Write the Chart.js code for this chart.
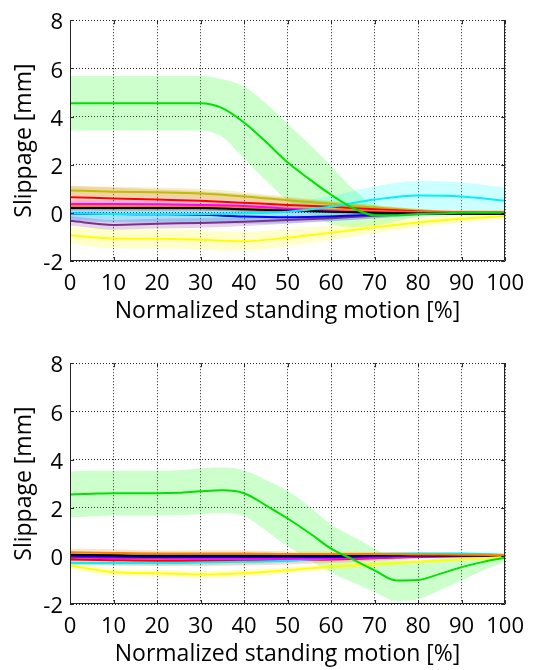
<!DOCTYPE html>
<html>
<head>
<meta charset="utf-8">
<script src="https://cdn.jsdelivr.net/npm/chart.js@4.4.0/dist/chart.umd.min.js"></script>
<style>
  html, body { margin: 0; padding: 0; background: #fff; overflow: hidden; width: 534px; height: 670px; }
  .panel { position: absolute; left: 0; width: 534px; height: 335px; }
</style>
</head>
<body>
<div class="panel" style="top:0"><canvas id="chartTop" width="534" height="335"></canvas></div>
<div class="panel" style="top:343px"><canvas id="chartBottom" width="534" height="335"></canvas></div>
<script>
// sample positions (% of standing motion)
const xCoarse = [0, 10, 20, 30, 40, 50, 60, 70, 80, 90, 100];
const xFine = [0, 5, 10, 15, 20, 25, 30, 35, 40, 45, 50, 55, 60, 65, 70, 75, 80, 85, 90, 95, 100];
const xTicks = [0, 10, 20, 30, 40, 50, 60, 70, 80, 90, 100];
const yTicks = [-2, 0, 2, 4, 6, 8];

// upper panel: mean slippage and spread [mm]
const topGreenMean = [4.55, 4.55, 4.55, 4.55, 4.55, 4.55, 4.55, 4.35, 3.75, 2.95, 2.1, 1.4, 0.75, 0.2, -0.1, -0.1, -0.05, -0.03, 0, 0, 0];
const topGreenSd = [1.13, 1.13, 1.13, 1.13, 1.13, 1.13, 1.13, 1.2, 1.5, 1.6, 1.6, 1.45, 1.2, 0.8, 0.45, 0.25, 0.12, 0.08, 0.05, 0.04, 0.03];
const topCyanMean = [-0.02, -0.05, -0.05, -0.05, -0.02, 0.05, 0.25, 0.55, 0.72, 0.68, 0.5];
const topCyanSd = [0.25, 0.3, 0.3, 0.3, 0.3, 0.35, 0.45, 0.55, 0.6, 0.58, 0.55];
const topYellowMean = [-0.93, -1.07, -1.08, -1.12, -1.18, -1.03, -0.83, -0.6, -0.4, -0.25, -0.13];
const topYellowSd = [0.35, 0.4, 0.4, 0.4, 0.4, 0.35, 0.3, 0.25, 0.2, 0.15, 0.1];
const topRedMean = [0.65, 0.6, 0.55, 0.5, 0.42, 0.33, 0.25, 0.15, 0.06, 0.02, 0];
const topRedSd = [0.45, 0.45, 0.42, 0.4, 0.35, 0.3, 0.22, 0.15, 0.1, 0.05, 0.03];
const topOliveMean = [0.93, 0.88, 0.85, 0.8, 0.68, 0.52, 0.38, 0.22, 0.1, 0.05, 0.05];
const topOliveSd = [0.2, 0.2, 0.2, 0.2, 0.18, 0.15, 0.12, 0.1, 0.06, 0.04, 0.03];
const topMagentaMean = [0.37, 0.37, 0.36, 0.33, 0.28, 0.17, 0.08, 0.02, 0, 0, 0];
const topMagentaSd = [0.15, 0.15, 0.15, 0.15, 0.13, 0.12, 0.1, 0.08, 0.05, 0.03, 0.03];
const topOrangeMean = [0.28, 0.26, 0.25, 0.25, 0.22, 0.17, 0.12, 0.07, 0.04, 0.02, 0.02];
const topOrangeSd = [0.15, 0.15, 0.15, 0.15, 0.13, 0.12, 0.1, 0.08, 0.05, 0.03, 0.03];
const topBlackMean = [0.2, 0.2, 0.2, 0.2, 0.15, 0.1, 0.05, 0, -0.03, -0.04, -0.05];
const topBlackSd = [0.1, 0.1, 0.1, 0.1, 0.1, 0.08, 0.06, 0.05, 0.04, 0.03, 0.03];
const topBlueMean = [-0.03, -0.05, -0.06, -0.08, -0.15, -0.18, -0.15, -0.08, -0.03, -0.02, -0.02];
const topBlueSd = [0.3, 0.35, 0.35, 0.35, 0.3, 0.25, 0.2, 0.15, 0.1, 0.05, 0.03];
const topPurpleMean = [-0.33, -0.5, -0.45, -0.42, -0.37, -0.3, -0.22, -0.12, -0.05, -0.02, 0];
const topPurpleSd = [0.2, 0.2, 0.2, 0.2, 0.18, 0.15, 0.12, 0.1, 0.06, 0.04, 0.03];

// lower panel
const botGreenMean = [2.55, 2.58, 2.6, 2.6, 2.6, 2.62, 2.68, 2.72, 2.6, 2.1, 1.55, 0.95, 0.3, -0.15, -0.6, -1.02, -1.0, -0.75, -0.47, -0.25, -0.08];
const botGreenSd = [0.95, 0.95, 0.93, 0.93, 0.93, 0.93, 0.95, 0.95, 0.95, 1.05, 1.15, 1.1, 1.0, 0.95, 0.9, 0.85, 0.8, 0.68, 0.55, 0.35, 0.15];
const botYellowMean = [-0.4, -0.68, -0.72, -0.78, -0.72, -0.6, -0.45, -0.35, -0.25, -0.15, -0.05];
const botYellowSd = [0.15, 0.15, 0.15, 0.15, 0.15, 0.13, 0.12, 0.1, 0.08, 0.06, 0.05];
const botOrangeMean = [0.15, 0.12, 0.1, 0.1, 0.1, 0.08, 0.08, 0.08, 0.06, 0.05, 0.03];
const botOrangeSd = [0.15, 0.15, 0.12, 0.12, 0.12, 0.1, 0.1, 0.08, 0.07, 0.06, 0.05];
const botBlackMean = [0.05, 0.02, 0, 0, 0, 0, 0, 0.02, 0.02, 0.02, 0.02];
const botBlackSd = [0.08, 0.08, 0.08, 0.08, 0.08, 0.07, 0.06, 0.05, 0.04, 0.03, 0.03];
const botBlueMean = [-0.02, -0.03, -0.05, -0.05, -0.05, -0.04, -0.05, -0.02, 0, 0, 0];
const botBlueSd = [0.1, 0.1, 0.1, 0.1, 0.1, 0.08, 0.07, 0.06, 0.05, 0.04, 0.03];
const botCyanMean = [-0.3, -0.3, -0.3, -0.28, -0.25, -0.2, -0.1, 0.08, 0.1, 0.1, 0.05];
const botCyanSd = [0.1, 0.1, 0.1, 0.1, 0.1, 0.1, 0.08, 0.07, 0.06, 0.05, 0.04];
const botRedMean = [-0.15, -0.18, -0.2, -0.2, -0.2, -0.18, -0.15, -0.1, -0.05, -0.02, 0];
const botRedSd = [0.2, 0.22, 0.22, 0.22, 0.2, 0.18, 0.15, 0.1, 0.07, 0.05, 0.03];
const botMagentaMean = [-0.05, -0.1, -0.1, -0.12, -0.12, -0.12, -0.12, -0.08, -0.03, 0, 0];
const botMagentaSd = [0.1, 0.1, 0.1, 0.1, 0.1, 0.08, 0.07, 0.06, 0.05, 0.04, 0.03];
const botOliveMean = [-0.05, -0.15, -0.15, -0.15, -0.15, -0.12, -0.1, -0.05, -0.02, 0, 0];
const botOliveSd = [0.1, 0.1, 0.1, 0.1, 0.1, 0.08, 0.07, 0.06, 0.05, 0.04, 0.03];
const botPurpleMean = [-0.1, -0.08, -0.05, -0.05, -0.05, -0.05, -0.05, -0.03, -0.02, 0, 0];
const botPurpleSd = [0.1, 0.1, 0.1, 0.1, 0.1, 0.08, 0.07, 0.06, 0.05, 0.04, 0.03];

// line colour, band colour (r,g,b)
const palette = {
  green:   ['rgb(0,225,0)',     '0,255,0'],
  cyan:    ['rgb(0,240,255)',   '0,255,255'],
  yellow:  ['rgb(255,255,0)',   '255,255,0'],
  red:     ['rgb(255,0,0)',     '255,60,0'],
  olive:   ['rgb(190,190,0)',   '190,190,0'],
  magenta: ['rgb(255,0,255)',   '255,0,255'],
  orange:  ['rgb(255,128,0)',   '255,128,0'],
  black:   ['rgb(0,0,0)',       '0,0,0'],
  blue:    ['rgb(0,0,255)',     '0,110,255'],
  purple:  ['rgb(126,47,142)',  '126,47,142']
};

const topSeries = [
  ['olive', xCoarse, topOliveMean, topOliveSd],
  ['red', xCoarse, topRedMean, topRedSd],
  ['purple', xCoarse, topPurpleMean, topPurpleSd],
  ['blue', xCoarse, topBlueMean, topBlueSd],
  ['yellow', xCoarse, topYellowMean, topYellowSd],
  ['orange', xCoarse, topOrangeMean, topOrangeSd],
  ['magenta', xCoarse, topMagentaMean, topMagentaSd],
  ['black', xCoarse, topBlackMean, topBlackSd],
  ['cyan', xCoarse, topCyanMean, topCyanSd],
  ['green', xFine, topGreenMean, topGreenSd]
];
const botSeries = [
  ['purple', xCoarse, botPurpleMean, botPurpleSd],
  ['olive', xCoarse, botOliveMean, botOliveSd],
  ['red', xCoarse, botRedMean, botRedSd],
  ['cyan', xCoarse, botCyanMean, botCyanSd],
  ['magenta', xCoarse, botMagentaMean, botMagentaSd],
  ['blue', xCoarse, botBlueMean, botBlueSd],
  ['black', xCoarse, botBlackMean, botBlackSd],
  ['orange', xCoarse, botOrangeMean, botOrangeSd],
  ['yellow', xCoarse, botYellowMean, botYellowSd],
  ['green', xFine, botGreenMean, botGreenSd]
];

function buildDatasets(list) {
  const sets = [];
  list.forEach(function(s, i) {
    const col = palette[s[0]];
    const xs = s[1], mean = s[2], sd = s[3];
    const common = { pointRadius: 0, cubicInterpolationMode: 'monotone' };
    sets.push(Object.assign({
      data: xs.map((x, k) => ({ x: x, y: mean[k] + sd[k] })),
      borderColor: 'rgba(0,0,0,0)', borderWidth: 0, fill: false, order: 100
    }, common));
    sets.push(Object.assign({
      data: xs.map((x, k) => ({ x: x, y: mean[k] - sd[k] })),
      borderColor: 'rgba(0,0,0,0)', borderWidth: 0, fill: '-1',
      backgroundColor: 'rgba(' + col[1] + ',0.2)', order: 100
    }, common));
    sets.push(Object.assign({
      data: xs.map((x, k) => ({ x: x, y: mean[k] })),
      borderColor: col[0], borderWidth: 2, fill: false, order: list.length - i
    }, common));
  });
  return sets;
}

// axes box with inward ticks
const framePlugin = {
  id: 'frame',
  afterDatasetsDraw(chart) {
    const ctx = chart.ctx, a = chart.chartArea;
    const sx = chart.scales.x, sy = chart.scales.y;
    ctx.save();
    ctx.strokeStyle = '#262626';
    ctx.lineWidth = 1;
    ctx.beginPath();
    ctx.moveTo(Math.round(a.left) + 0.5, Math.round(a.top) + 0.5);
    ctx.lineTo(Math.round(a.left) + 0.5, Math.round(a.bottom) - 0.5);
    ctx.lineTo(Math.round(a.right) - 0.5, Math.round(a.bottom) - 0.5);
    ctx.lineTo(Math.round(a.right) - 0.5, Math.round(a.top) + 0.5);
    xTicks.forEach(function(v) {
      const px = Math.round(sx.getPixelForValue(v)) + 0.5;
      ctx.moveTo(px, a.bottom); ctx.lineTo(px, a.bottom - 4);
      ctx.moveTo(px, a.top); ctx.lineTo(px, a.top + 4);
    });
    yTicks.forEach(function(v) {
      const py = Math.round(sy.getPixelForValue(v)) + 0.5;
      ctx.moveTo(a.left, py); ctx.lineTo(a.left + 4, py);
      ctx.moveTo(a.right, py); ctx.lineTo(a.right - 4, py);
    });
    ctx.stroke();
    ctx.restore();
  }
};

function makeChart(id, list) {
  const tickFont = { family: 'Open Sans', size: 22 };
  const titleFont = { family: 'Open Sans', size: 23 };
  return new Chart(document.getElementById(id).getContext('2d'), {
    type: 'line',
    data: { datasets: buildDatasets(list) },
    options: {
      responsive: false,
      animation: false,
      layout: { padding: { top: 11, right: 20, left: 0, bottom: 0 } },
      plugins: {
        legend: { display: false },
        tooltip: { enabled: false },
        filler: { drawTime: 'beforeDatasetsDraw' }
      },
      scales: {
        x: {
          type: 'linear', min: 0, max: 100,
          afterBuildTicks: s => { s.ticks = xTicks.map(v => ({ value: v })); },
          afterFit: s => { s.height = 74; },
          grid: { color: '#222', lineWidth: 1, drawTicks: false },
          border: { display: false, dash: [1, 2] },
          ticks: { color: '#000', font: tickFont, padding: 10, maxRotation: 0 },
          title: { display: true, text: 'Normalized standing motion [%]', color: '#000', font: titleFont, padding: { top: 0, bottom: 10 } }
        },
        y: {
          type: 'linear', min: -2, max: 8,
          afterBuildTicks: s => { s.ticks = yTicks.map(v => ({ value: v })); },
          afterFit: s => { s.width = 70; },
          grid: { color: '#222', lineWidth: 1, drawTicks: false },
          border: { display: false, dash: [1, 2] },
          ticks: { color: '#000', font: tickFont, padding: 7, labelOffset: 3 },
          title: { display: true, text: 'Slippage [mm]', color: '#000', font: titleFont, padding: { top: 11, bottom: 0 } }
        }
      }
    },
    plugins: [framePlugin]
  });
}

makeChart('chartTop', topSeries);
makeChart('chartBottom', botSeries);
</script>
</body>
</html>
